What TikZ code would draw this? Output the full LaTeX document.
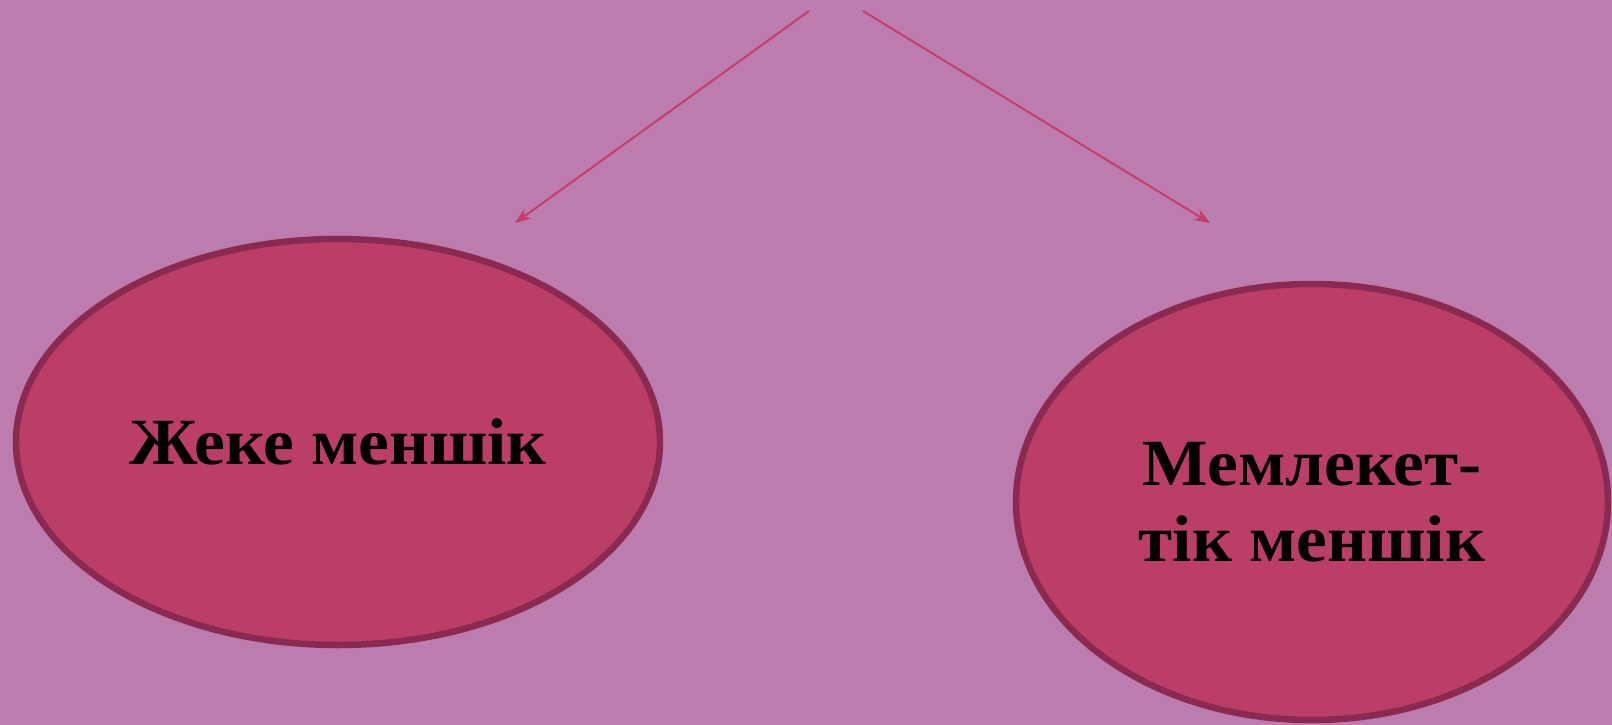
\documentclass[tikz,border=0pt]{standalone}
\usepackage{fontspec}
\setmainfont[FakeStretch=1.05]{Liberation Serif}
\usetikzlibrary{arrows.meta}
\usetikzlibrary{shapes.geometric}
\tikzset{>={Stealth[length=16pt, width=12pt]}}
\definecolor{bgpurple}{HTML}{BC7DAE}
\definecolor{ovalfill}{HTML}{BB3E69}
\definecolor{ovalline}{HTML}{8A2A50}
\definecolor{arrowred}{HTML}{C63C6A}

\begin{document}
\begin{tikzpicture}[x=1pt, y=-1pt,
    oval/.style={ellipse, draw=ovalline, fill=ovalfill, line width=6.5pt, inner sep=0pt,
      align=center, font=\fontsize{66}{76}\selectfont\bfseries}]
      \fill[bgpurple] (0, 0) rectangle (1612, 725);
      \useasboundingbox (0, 0) rectangle (1612, 725);
      \node[oval, minimum width=644pt, minimum height=406pt] (priv) at (338, 442) {Жеке меншік};
      \node[oval, minimum width=592pt, minimum height=436pt] (state) at (1312, 502) {Мемлекет-\\тік меншік};
      \coordinate (topL) at (809, 11);
      \coordinate (topR) at (863, 11);
      \coordinate (tipL) at (515, 223);
      \coordinate (tipR) at (1210, 223);
      \draw[->, arrowred, line width=2pt] (topL) -- (tipL);
      \draw[->, arrowred, line width=2pt] (topR) -- (tipR);
    \end{tikzpicture}
\end{document}
